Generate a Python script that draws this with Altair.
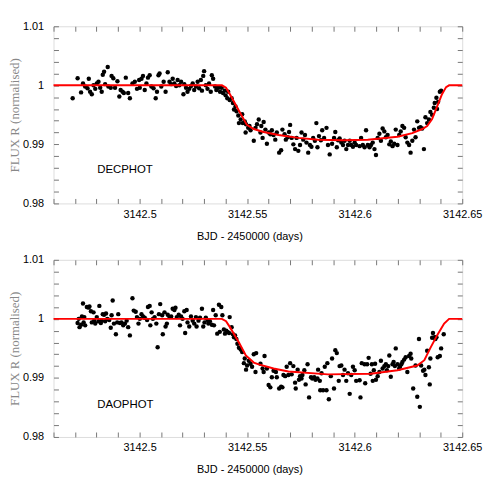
import altair as alt
import pandas as pd

# ---------------- data (BJD offset from 3142.46, flux) ----------------
BASE = 3142.46

dec_t = [0.0089,0.0112,0.0128,0.0137,0.0147,0.0158,0.0164,0.0170,0.0178,0.0186,0.0194,0.0201,0.0209,0.0217,0.0224,0.0229,0.0235,0.0240,0.0252,0.0255,0.0266,0.0270,0.0278,0.0286,0.0297,0.0306,0.0312,0.0321,0.0327,0.0336,0.0347,0.0355,0.0367,0.0378,0.0388,0.0398,0.0401,0.0409,0.0416,0.0424,0.0432,0.0439,0.0447,0.0455,0.0465,0.0475,0.0481,0.0488,
         0.0493,0.0501,0.0512,0.0521,0.0531,0.0539,0.0547,0.0554,0.0562,0.0570,0.0577,0.0585,0.0593,0.0604,0.0608,0.0616,0.0623,0.0631,0.0639,0.0647,0.0654,0.0662,0.0670,0.0677,0.0685,0.0690,0.0696,0.0700,0.0708,0.0716,0.0723,0.0731,0.0736,0.0742,0.0751,0.0757,0.0766,0.0774,0.0782,0.0788,0.0796,0.0800,0.0808,0.0812,0.0819,0.0828,0.0834,0.0839,0.0846,0.0851,0.0859,0.0862,0.0870,0.0877,0.0880,0.0889,0.0893,0.0895,0.0905,0.0911,0.0916,0.0931,0.0939,0.0946,
         0.0954,0.0962,0.0966,0.0972,0.0977,0.0985,0.0992,0.1000,0.1008,0.1015,0.1023,0.1031,0.1038,0.1049,0.1058,0.1064,0.1074,0.1080,0.1089,0.1095,0.1100,0.1107,0.1115,0.1123,0.1130,0.1138,0.1146,0.1153,0.1161,0.1169,0.1176,0.1184,0.1192,0.1199,0.1207,0.1215,0.1222,0.1227,0.1234,0.1243,0.1249,0.1258,0.1269,0.1276,0.1284,0.1295,0.1304,0.1310,0.1317,0.1323,0.1330,0.1338,0.1346,0.1353,0.1361,0.1369,0.1377,0.1384,0.1392,0.1400,0.1407,
         0.1423,0.1430,0.1438,0.1446,0.1453,0.1461,0.1469,0.1476,0.1484,0.1492,0.1499,0.1507,0.1515,0.1522,0.1530,0.1538,0.1545,0.1553,0.1561,0.1568,0.1576,0.1584,0.1591,0.1599,0.1607,0.1614,0.1622,0.1630,0.1637,0.1645,0.1653,0.1660,0.1668,0.1676,0.1683,0.1691,0.1699,0.1706,0.1714,0.1722,0.1729,0.1737,0.1745,0.1752,0.1760,0.1768,0.1772,0.1780,0.1783,0.1788,0.1796,0.1802]
dec_f = [0.9978,1.0012,0.9988,1.0003,0.9998,0.9995,1.0011,0.9989,0.9985,1.0000,0.9994,1.0003,1.0006,0.9996,0.9989,1.0018,1.0023,1.0002,1.0031,0.9998,0.9996,1.0016,1.0012,0.9996,1.0007,0.9981,0.9992,0.9989,0.9987,1.0013,0.9987,0.9978,1.0003,1.0006,0.9994,1.0009,0.9996,1.0011,1.0016,0.9992,1.0003,1.0013,1.0017,0.9998,0.9995,0.9978,0.9989,1.0017,
         1.0020,0.9998,1.0006,0.9989,1.0022,1.0006,1.0002,1.0011,1.0003,0.9999,1.0009,1.0000,1.0006,0.9985,1.0002,0.9996,0.9989,0.9994,0.9999,1.0003,0.9992,0.9998,1.0006,0.9995,1.0009,0.9991,1.0016,1.0024,1.0000,0.9994,1.0003,0.9989,1.0017,1.0011,0.9998,0.9992,0.9996,0.9989,0.9996,0.9987,0.9991,0.9983,0.9978,0.9989,0.9975,0.9978,0.9970,0.9959,0.9964,0.9956,0.9949,0.9936,0.9942,0.9951,0.9936,0.9939,0.9920,0.9934,0.9928,0.9931,0.9924,0.9906,0.9928,0.9934,
         0.9942,0.9920,0.9931,0.9911,0.9938,0.9925,0.9901,0.9920,0.9917,0.9924,0.9916,0.9908,0.9920,0.9886,0.9890,0.9925,0.9917,0.9908,0.9912,0.9921,0.9933,0.9911,0.9900,0.9892,0.9911,0.9889,0.9899,0.9920,0.9908,0.9916,0.9903,0.9886,0.9899,0.9896,0.9911,0.9906,0.9936,0.9895,0.9914,0.9907,0.9924,0.9911,0.9928,0.9899,0.9883,0.9901,0.9911,0.9921,0.9895,0.9907,0.9910,0.9903,0.9899,0.9906,0.9892,0.9899,0.9906,0.9899,0.9896,0.9903,0.9899,
         0.9897,0.9911,0.9899,0.9895,0.9924,0.9899,0.9895,0.9899,0.9903,0.9892,0.9882,0.9911,0.9918,0.9906,0.9927,0.9922,0.9912,0.9916,0.9900,0.9905,0.9897,0.9901,0.9925,0.9899,0.9916,0.9922,0.9931,0.9928,0.9912,0.9903,0.9899,0.9886,0.9906,0.9925,0.9912,0.9939,0.9928,0.9929,0.9927,0.9892,0.9946,0.9936,0.9942,0.9955,0.9950,0.9962,0.9970,0.9979,0.9960,0.9972,0.9989,0.9991]

dao_t = [0.0112,0.0117,0.0121,0.0128,0.0132,0.0137,0.0140,0.0143,0.0147,0.0155,0.0163,0.0167,0.0174,0.0178,0.0186,0.0189,0.0194,0.0201,0.0209,0.0213,0.0220,0.0224,0.0229,0.0235,0.0240,0.0244,0.0250,0.0259,0.0266,0.0270,0.0275,0.0281,0.0290,0.0296,0.0301,0.0309,0.0316,0.0324,0.0332,0.0340,0.0347,0.0355,0.0367,0.0373,0.0382,0.0388,0.0395,0.0401,0.0409,0.0416,0.0424,0.0435,0.0439,0.0447,0.0450,0.0456,0.0462,0.0470,0.0478,0.0484,0.0490,
         0.0496,0.0505,0.0508,0.0516,0.0521,0.0527,0.0531,0.0539,0.0547,0.0554,0.0562,0.0567,0.0573,0.0582,0.0588,0.0593,0.0600,0.0608,0.0612,0.0619,0.0623,0.0631,0.0639,0.0647,0.0654,0.0662,0.0665,0.0674,0.0681,0.0690,0.0696,0.0702,0.0708,0.0716,0.0720,0.0727,0.0736,0.0742,0.0746,0.0754,0.0761,0.0769,0.0773,0.0780,0.0785,0.0792,0.0797,0.0803,0.0809,0.0816,0.0819,0.0828,0.0834,0.0839,0.0844,0.0850,0.0855,0.0862,0.0870,0.0877,0.0885,0.0889,0.0895,0.0900,0.0908,0.0916,0.0923,0.0931,0.0939,0.0942,
         0.0962,0.0972,0.0977,0.0981,0.0992,0.1000,0.1008,0.1015,0.1023,0.1034,0.1038,0.1049,0.1058,0.1064,0.1069,0.1077,0.1084,0.1092,0.1100,0.1107,0.1115,0.1123,0.1126,0.1135,0.1141,0.1146,0.1153,0.1157,0.1166,0.1172,0.1181,0.1188,0.1197,0.1203,0.1212,0.1218,0.1227,0.1230,0.1238,0.1240,0.1246,0.1253,0.1261,0.1269,0.1273,0.1280,0.1289,0.1295,0.1304,0.1310,0.1317,0.1326,0.1330,0.1338,0.1346,0.1353,0.1361,0.1369,0.1377,0.1384,0.1392,0.1400,0.1407,
         0.1423,0.1427,0.1433,0.1446,0.1449,0.1458,0.1465,0.1474,0.1480,0.1484,0.1489,0.1495,0.1499,0.1507,0.1515,0.1522,0.1530,0.1538,0.1545,0.1550,0.1556,0.1561,0.1568,0.1576,0.1581,0.1587,0.1591,0.1599,0.1607,0.1611,0.1617,0.1622,0.1630,0.1637,0.1645,0.1653,0.1660,0.1663,0.1672,0.1683,0.1691,0.1699,0.1703,0.1709,0.1718,0.1724,0.1729,0.1737,0.1745,0.1749,0.1752,0.1760,0.1764,0.1771,0.1775,0.1780,0.1786,0.1796,0.1802,0.1814]
dao_f = [0.9993,1.0000,0.9986,0.9990,1.0004,1.0026,0.9994,1.0003,0.9989,1.0020,1.0019,1.0021,1.0013,0.9994,1.0011,0.9997,0.9992,1.0003,0.9996,1.0022,0.9993,0.9997,1.0008,1.0007,0.9996,1.0009,1.0000,0.9998,0.9985,1.0006,1.0031,0.9992,0.9974,0.9994,1.0008,0.9993,0.9994,0.9989,0.9992,0.9997,0.9986,0.9972,1.0035,1.0014,1.0012,1.0003,0.9992,1.0000,1.0008,1.0004,1.0002,0.9998,1.0020,1.0022,0.9989,1.0011,1.0000,1.0003,0.9992,0.9952,1.0008,
         1.0025,1.0006,0.9974,1.0011,0.9987,0.9992,1.0007,1.0003,1.0004,1.0017,1.0015,1.0019,1.0003,1.0007,0.9989,1.0004,1.0000,1.0013,0.9976,1.0015,0.9994,0.9987,1.0004,0.9997,0.9992,1.0003,0.9987,0.9997,1.0002,1.0017,0.9987,0.9994,1.0002,0.9998,0.9992,0.9996,0.9990,1.0015,0.9989,1.0006,0.9975,1.0024,0.9978,1.0020,1.0006,0.9982,0.9975,0.9980,0.9978,0.9976,1.0003,0.9986,0.9974,0.9969,0.9972,0.9966,0.9958,0.9951,0.9948,0.9944,0.9925,0.9933,0.9914,0.9921,0.9929,0.9924,0.9919,0.9940,0.9910,0.9942,
         0.9924,0.9916,0.9910,0.9937,0.9916,0.9888,0.9884,0.9901,0.9912,0.9910,0.9901,0.9882,0.9885,0.9884,0.9905,0.9903,0.9919,0.9905,0.9925,0.9906,0.9920,0.9892,0.9882,0.9914,0.9897,0.9903,0.9899,0.9905,0.9913,0.9889,0.9923,0.9867,0.9901,0.9899,0.9901,0.9897,0.9899,0.9914,0.9895,0.9879,0.9908,0.9879,0.9919,0.9879,0.9925,0.9864,0.9903,0.9933,0.9882,0.9947,0.9942,0.9895,0.9920,0.9921,0.9905,0.9914,0.9895,0.9908,0.9873,0.9905,0.9919,0.9913,0.9895,
         0.9896,0.9867,0.9925,0.9923,0.9891,0.9923,0.9934,0.9907,0.9923,0.9895,0.9913,0.9924,0.9897,0.9903,0.9910,0.9929,0.9916,0.9920,0.9923,0.9913,0.9920,0.9938,0.9902,0.9923,0.9927,0.9920,0.9950,0.9923,0.9916,0.9919,0.9923,0.9927,0.9931,0.9935,0.9910,0.9937,0.9941,0.9933,0.9882,0.9921,0.9868,0.9966,0.9851,0.9921,0.9912,0.9914,0.9905,0.9946,0.9918,0.9889,0.9933,0.9968,0.9976,0.9969,0.9966,0.9969,0.9935,0.9937,0.9950,0.9974]

# transit model curves
dec_model_t = [0.0, 0.0783, 0.0802, 0.0820, 0.0862, 0.0899, 0.0931, 0.0977, 0.1046, 0.1138, 0.1230, 0.1346, 0.1461, 0.1599, 0.1668, 0.1714, 0.1737, 0.1760, 0.1783, 0.1806, 0.1825, 0.1839, 0.19]
dec_model_f = [1.0, 1.0, 0.9996, 0.9985, 0.9957, 0.9933, 0.9926, 0.9921, 0.9916, 0.9911, 0.9908, 0.9907, 0.9908, 0.9913, 0.9919, 0.9926, 0.9931, 0.9943, 0.9964, 0.9985, 0.9997, 1.0, 1.0]
dao_model_t = [0.0, 0.0783, 0.0802, 0.0820, 0.0862, 0.0894, 0.0931, 0.0954, 0.1023, 0.1092, 0.1276, 0.1475, 0.1599, 0.1691, 0.1724, 0.1751, 0.1783, 0.1816, 0.1839, 0.19]
dao_model_f = [1.0, 1.0, 0.9996, 0.9986, 0.9960, 0.9938, 0.9926, 0.9923, 0.9916, 0.9911, 0.9906, 0.9907, 0.9913, 0.9921, 0.9930, 0.9950, 0.9972, 0.9992, 1.0, 1.0]

labels = ["DECPHOT", "DAOPHOT"]
label_pos = [(3142.4803, 0.9856), (3142.4803, 0.9854)]

X_TICKS = [3142.46, 3142.47, 3142.48, 3142.49, 3142.5, 3142.51, 3142.52, 3142.53, 3142.54, 3142.55,
           3142.56, 3142.57, 3142.58, 3142.59, 3142.6, 3142.61, 3142.62, 3142.63, 3142.64, 3142.65]
X_MAJOR = [3142.5, 3142.55, 3142.6, 3142.65]
Y_TICKS = [0.98, 0.982, 0.984, 0.986, 0.988, 0.99, 0.992, 0.994, 0.996, 0.998,
           1.0, 1.002, 1.004, 1.006, 1.008, 1.01]
Y_MAJOR = [0.98, 0.99, 1.0, 1.01]

# ---------------- styling ----------------
W, H = 413, 179
TICK = "#777777"
FRAME = "#999999"
SANS = "Liberation Sans"
SERIF = "Liberation Serif"

xscale = alt.Scale(domain=[3142.46, 3142.65], nice=False, zero=False)
yscale = alt.Scale(domain=[0.98, 1.01], nice=False, zero=False)

x_expr = "indexof(" + str(X_MAJOR) + ", datum.value) >= 0 ? format(datum.value, '.2~f') : ''"
y_expr = "indexof(" + str(Y_MAJOR) + ", datum.value) >= 0 ? format(datum.value, '.2~f') : ''"

common = dict(offset=-5, tickSize=5, domain=False, grid=False, tickColor=TICK, tickWidth=1)

x_bottom = alt.Axis(orient="bottom", values=X_TICKS, labelExpr=x_expr, labelPadding=5,
                    labelFlush=False, labelOverlap=False, labelFont=SANS, labelFontSize=11,
                    labelColor="black", title="BJD - 2450000 (days)", titleFont=SANS,
                    titleFontSize=11, titleFontWeight="normal", titleColor="black",
                    titlePadding=11, titleX=198, **common)
y_left = alt.Axis(orient="left", values=Y_TICKS, labelExpr=y_expr, labelPadding=10,
                  labelFlush=False, labelOverlap=False, labelFont=SANS, labelFontSize=11,
                  labelColor="black", title="FLUX R (normalised)", titleFont=SERIF,
                  titleFontSize=13, titleFontWeight="normal", titleColor="#888888",
                  titlePadding=1, **common)
x_top = alt.Axis(orient="top", values=X_TICKS, labels=False, title=None, **common)
y_right = alt.Axis(orient="right", values=Y_TICKS, labels=False, title=None, **common)


def panel(t, f, mt, mf, label, pos):
    n = min(len(t), len(f))
    pts = pd.DataFrame({"t": [BASE + v for v in t[:n]], "f": f[:n]})
    mdl = pd.DataFrame({"t": [BASE + v for v in mt], "f": mf})
    lab = pd.DataFrame({"t": [pos[0]], "f": [pos[1]], "label": [label]})

    p = alt.Chart(pts).mark_circle(size=20, color="black", opacity=1).encode(
        x=alt.X("t:Q", scale=xscale, axis=x_bottom),
        y=alt.Y("f:Q", scale=yscale, axis=y_left),
    )
    m = alt.Chart(mdl).mark_line(color="#ff0000", strokeWidth=2).encode(
        x=alt.X("t:Q", scale=xscale, axis=x_top),
        y=alt.Y("f:Q", scale=yscale, axis=y_right),
    )
    tx = alt.Chart(lab).mark_text(align="left", baseline="middle", font=SANS,
                                  fontSize=11.5, color="black").encode(
        x=alt.X("t:Q", scale=xscale, axis=None),
        y=alt.Y("f:Q", scale=yscale, axis=None),
        text="label:N",
    )
    return alt.layer(p, m, tx).resolve_axis(x="independent", y="independent").properties(
        width=W, height=H)


top = panel(dec_t, dec_f, dec_model_t, dec_model_f, labels[0], label_pos[0])
bottom = panel(dao_t, dao_f, dao_model_t, dao_model_f, labels[1], label_pos[1])

chart = alt.vconcat(top, bottom, spacing=11).properties(
    padding={"left": 0, "top": 9, "right": 0, "bottom": 0}
).configure_view(stroke=FRAME, strokeWidth=1).configure(background="white")

chart.save("out.html", embed_options={"renderer": "svg", "actions": False})
